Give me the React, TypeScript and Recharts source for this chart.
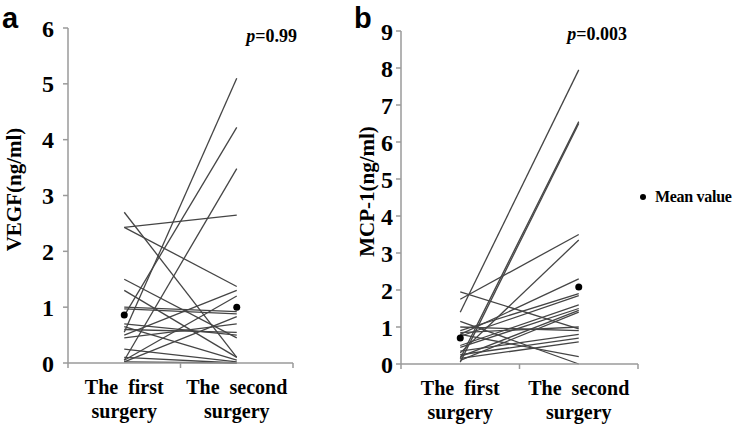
import React from 'react';
import { ComposedChart, Line, Scatter, XAxis, YAxis, Legend } from 'recharts';

const categories = ['The first surgery', 'The second surgery'];

const vegfTicks = [0, 1, 2, 3, 4, 5, 6];
const vegfFirst = [0.55, 0.85, 0.05, 2.43, 2.43, 2.7, 1.5, 1.3, 1.0, 0.97, 0.7, 0.65, 0.6, 0.5, 0.45, 0.25, 0.1, 0.05, 0.02, 0.02];
const vegfSecond = [5.1, 4.22, 3.48, 2.65, 1.37, 0.1, 0.45, 0.1, 0.92, 0.88, 0.5, 0.05, 0.55, 1.3, 0.7, 0.02, 0.0, 1.2, 0.83, 0.0];
const vegfMean = [0.86, 1.0];

const mcpTicks = [0, 1, 2, 3, 4, 5, 6, 7, 8, 9];
const mcpFirst = [1.4, 0.15, 0.05, 1.75, 0.3, 0.8, 0.9, 1.95, 1.15, 0.75, 0.5, 0.45, 0.2, 0.85, 1.0, 0.35, 0.25, 0.15, 0.8, 0.1];
const mcpSecond = [7.95, 6.55, 6.5, 3.5, 3.35, 2.3, 1.9, 0.95, 0.0, 1.85, 1.6, 1.5, 1.45, 1.0, 0.9, 0.8, 0.7, 0.6, 0.2, 1.4];
const mcpMean = [0.7, 2.08];

const SERIF = '"Liberation Serif", "Times New Roman", serif';
const AXIS = '#9a9a9a';
const LINE = '#454545';

const catX = (i: number) => 2 * i + 1;

const CatTick = (props: any) => {
  const { x, y, payload } = props;
  const v = payload.value;
  if (v % 2 === 0) {
    return <line x1={x} x2={x} y1={y} y2={y + 5} stroke={AXIS} strokeWidth={1.5} />;
  }
  const label = categories[(v - 1) / 2];
  const cut = label.lastIndexOf(' ');
  return (
    <g>
      <text x={x} y={y + 31} textAnchor="middle" fontFamily={SERIF} fontWeight={700} fontSize={20} fill="#000" wordSpacing={5}>
        {label.slice(0, cut)}
      </text>
      <text x={x} y={y + 55} textAnchor="middle" fontFamily={SERIF} fontWeight={700} fontSize={20} fill="#000">
        {label.slice(cut + 1)}
      </text>
    </g>
  );
};

type PanelProps = {
  width: number;
  height: number;
  top: number;
  right: number;
  yWidth: number;
  xHeight: number;
  ticks: number[];
  first: number[];
  second: number[];
  mean: number[];
  yLabel: string;
  labelX: number;
  tickMargin: number;
  legend?: boolean;
};

const Panel = (p: PanelProps) => {
  const pairs = p.first.map((f, i) => [
    { x: catX(0), v: f },
    { x: catX(1), v: p.second[i] },
  ]);
  const meanData = p.mean.map((m, i) => ({ x: catX(i), v: m }));
  const max = p.ticks[p.ticks.length - 1];
  return (
    <ComposedChart width={p.width} height={p.height} margin={{ top: p.top, right: p.right, bottom: 0, left: 0 }}>
      <XAxis
        dataKey="x"
        type="number"
        domain={[0, 4]}
        ticks={[0, 1, 2, 3, 4]}
        interval={0}
        tickLine={false}
        tickSize={0}
        tickMargin={0}
        height={p.xHeight}
        axisLine={{ stroke: AXIS, strokeWidth: 1.5 }}
        tick={<CatTick />}
      />
      <YAxis
        type="number"
        domain={[0, max]}
        ticks={p.ticks}
        interval={0}
        width={p.yWidth}
        tickSize={5}
        tickMargin={p.tickMargin}
        axisLine={{ stroke: AXIS, strokeWidth: 1.5 }}
        tickLine={{ stroke: AXIS, strokeWidth: 1.5 }}
        tick={{ fill: '#000', fontSize: 24, fontWeight: 700, fontFamily: SERIF }}
        label={{
          content: (lp: any) => {
            const vb = lp.viewBox || { y: 0, height: 0 };
            const cy = vb.y + vb.height / 2 - 6;
            return (
              <text
                x={p.labelX}
                y={cy}
                transform={`rotate(-90 ${p.labelX} ${cy})`}
                textAnchor="middle"
                dominantBaseline="central"
                fontFamily={SERIF}
                fontWeight={700}
                fontSize={21}
                fill="#000"
              >
                {p.yLabel}
              </text>
            );
          },
        }}
      />
      {pairs.map((d, i) => (
        <Line
          key={i}
          data={d}
          dataKey="v"
          stroke={LINE}
          strokeWidth={1.3}
          dot={false}
          isAnimationActive={false}
          legendType="none"
        />
      ))}
      <Scatter data={meanData} dataKey="v" name="Mean value" fill="#000" shape={(sp: any) => <circle cx={sp.cx} cy={sp.cy} r={3.5} fill="#000" />} isAnimationActive={false} />
      {p.legend && (
        <Legend
          layout="vertical"
          align="center"
          verticalAlign="middle"
          wrapperStyle={{ left: 292, top: 186, width: 98 }}
          content={() => (
            <svg width={98} height={22}>
              <circle cx={6} cy={11} r={3} fill="#000" />
              <text x={18} y={16} fontFamily={SERIF} fontWeight={700} fontSize={16} fill="#000" letterSpacing={-0.3}>
                Mean value
              </text>
            </svg>
          )}
        />
      )}
    </ComposedChart>
  );
};

export default function App() {
  return (
    <div style={{ position: 'absolute', left: 0, top: 0, width: 735, height: 428, background: '#fff', overflow: 'hidden' }}>
      <div style={{ position: 'absolute', left: 0, top: 0 }}>
        <Panel
          width={340}
          height={428}
          top={28}
          right={47}
          yWidth={68}
          xHeight={65}
          ticks={vegfTicks}
          first={vegfFirst}
          second={vegfSecond}
          mean={vegfMean}
          yLabel="VEGF(ng/ml)"
          labelX={14}
          tickMargin={9}
        />
      </div>
      <div style={{ position: 'absolute', left: 345, top: 0 }}>
        <Panel
          width={390}
          height={428}
          top={31}
          right={97}
          yWidth={56}
          xHeight={64}
          ticks={mcpTicks}
          first={mcpFirst}
          second={mcpSecond}
          mean={mcpMean}
          yLabel="MCP-1(ng/ml)"
          labelX={22}
          tickMargin={3}
          legend
        />
      </div>
      <svg width={735} height={428} style={{ position: 'absolute', left: 0, top: 0, pointerEvents: 'none' }}>
        <text x={2} y={28} fontFamily='"Liberation Sans", Arial, sans-serif' fontWeight={700} fontSize={29} fill="#000">a</text>
        <text x={354} y={28} fontFamily='"Liberation Sans", Arial, sans-serif' fontWeight={700} fontSize={29} fill="#000">b</text>
        <text x={297} y={42} textAnchor="end" fontFamily={SERIF} fontWeight={700} fontSize={18} fill="#000">
          <tspan fontStyle="italic">p</tspan>=0.99
        </text>
        <text x={627} y={40} textAnchor="end" fontFamily={SERIF} fontWeight={700} fontSize={18} fill="#000">
          <tspan fontStyle="italic">p</tspan>=0.003
        </text>
      </svg>
    </div>
  );
}
